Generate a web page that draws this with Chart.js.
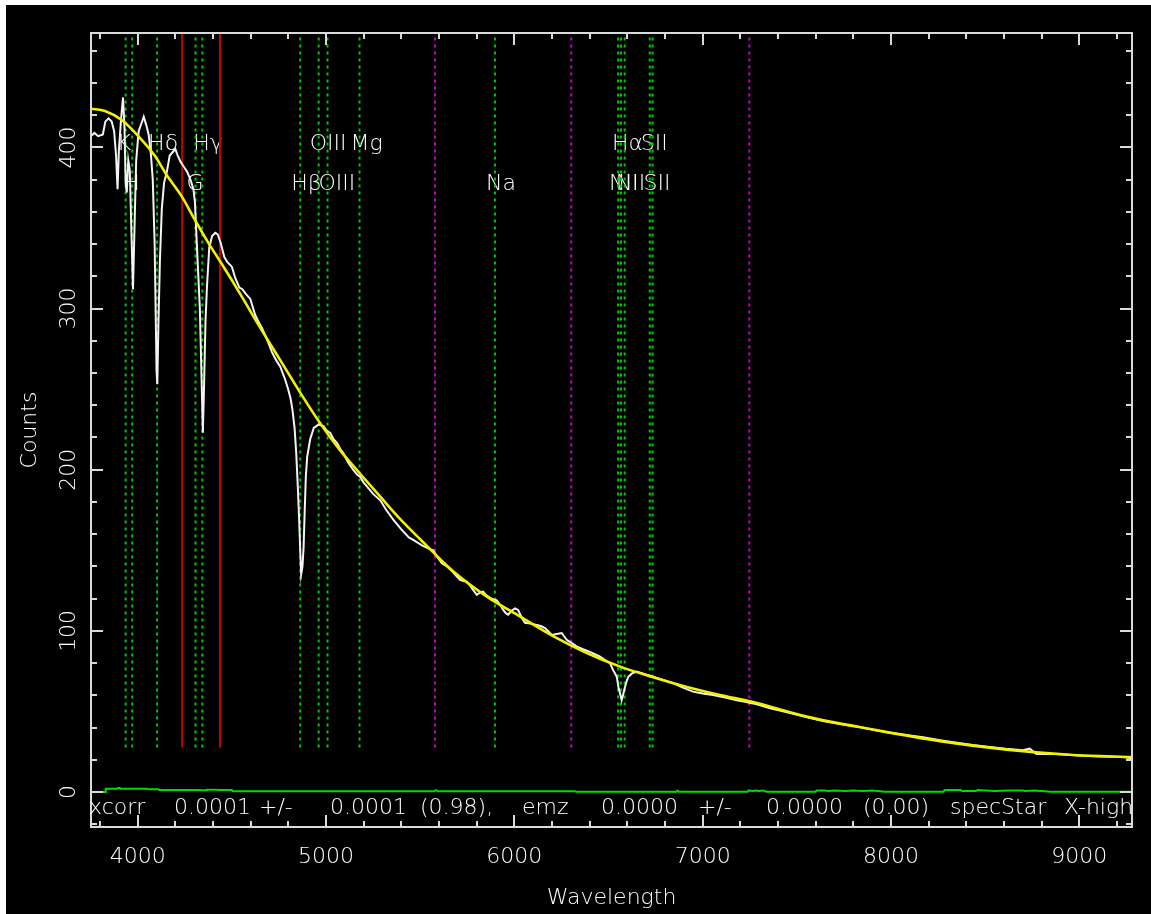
<!DOCTYPE html>
<html>
<head>
<meta charset="utf-8">
<script src="https://cdn.jsdelivr.net/npm/chart.js@4.4.1/dist/chart.umd.min.js"></script>
<style>
  html, body { margin: 0; padding: 0; background: #ffffff; width: 1151px; height: 914px; overflow: hidden; }
  #wrap { position: absolute; left: 6px; top: 5px; right: 0; bottom: 0; background: #000000; }
  canvas { display: block; }
</style>
</head>
<body>
<div id="wrap"><canvas id="spec" width="1145" height="909"></canvas></div>
<script>
// Observed spectrum (wavelength in Angstrom, counts)
const specWavelength = [3752,3770,3790,3815,3828,3845,3862,3875,3885,3893,3900,3912,3922,3930,3936,3942,3950,3958,3966,3975,3983,3992,4005,4020,4032,4045,4058,4070,4080,4090,4100,4104,4110,4118,4128,4140,4155,4170,4185,4200,4212,4228,4245,4262,4280,4296,4304,4312,4320,4330,4338,4346,4352,4360,4368,4380,4395,4412,4425,4440,4460,4475,4500,4518,4540,4556,4575,4598,4624,4645,4660,4686,4713,4735,4757,4783,4799,4812,4822,4833,4842,4850,4857,4863,4868,4875,4881,4887,4893,4900,4916,4935,4960,4987,5005,5022,5040,5058,5075,5091,5115,5144,5165,5182,5200,5217,5250,5288,5320,5357,5400,5440,5463,5510,5545,5569,5590,5615,5642,5670,5695,5712,5730,5748,5765,5781,5801,5818,5834,5852,5872,5890,5907,5925,5941,5955,5967,5985,6004,6020,6040,6057,6085,6119,6140,6163,6180,6199,6225,6252,6265,6279,6305,6332,6365,6402,6430,6455,6480,6508,6524,6544,6553,6561,6570,6578,6588,6597,6606,6625,6650,6690,6737,6790,6843,6895,6949,7000,7055,7120,7181,7225,7268,7310,7358,7410,7464,7550,7639,7730,7818,7905,7995,8080,8170,8260,8349,8435,8524,8610,8700,8737,8755,8773,8830,8879,8960,9056,9140,9231,9280];
const specCounts = [407,409,407,408,416,418,416,410,395,374,398,418,431,412,378,372,392,386,350,312,350,392,410,415,419,414,408,396,380,340,262,253,290,330,362,378,385,395,397,399,395,391,388,385,380,374,366,345,325,300,262,223,250,292,314,338,345,347,346,341,332,329,326,319,313,312,309,306,296,291,288,281,273,268,264,256,250,244,237,226,210,190,170,150,135,140,152,175,196,208,219,226,228,227,224,223,219,216.7,213,210.5,205,200,197,195.5,192,189.6,185,181,175,169,163,158,156.5,153,151,150,146,142,140,137,133.7,131.7,131,130.6,128,125.5,122.4,123.8,124.4,122,120.5,119.5,119,116,113,111,110,112.5,114,113,108,105,104.5,103.7,103,101.8,99.8,97.5,98,98.6,96.5,94.4,92.4,90.2,88.6,87,85.4,84,82,80,75.8,71.6,65,61.5,57,60.5,65.4,69,71.6,73.6,74.7,73.2,71.6,69.6,67.6,64.8,62.3,61.2,60.2,58.6,57,56,55,53.6,52,50.5,49,46.5,44,42.2,40.6,38.6,36.8,35.4,34,32.2,30.6,29.2,28,26.9,26,27,25.2,23.6,23.6,23.6,23,22.4,22,21.7,21];

// Smooth continuum fit
const fitWavelength = [3752,3826,3915,4003,4092,4153,4233,4304,4375,4445,4545,4651,4757,4862,4968,5075,5181,5287,5393,5499,5675,5854,6031,6206,6385,6562,6737,6916,7092,7268,7552,7904,8260,8614,8966,9280];
const fitCounts = [424,422.6,417,407,394.6,383,369.8,355,340.8,328,309,288,268,248,229,212,197.5,183.4,169.5,157,137,121.3,108.9,96.8,86.3,77.8,71.2,65.2,60.2,55.8,46.8,38.8,31.6,26.3,23,21.7];

// Noise level along the spectrum
const errWavelength = [3752,3828,3830,3890,3895,3905,3910,4050,4060,4110,4115,4330,4340,4365,4370,4420,4430,4500,4505,5575,5585,5595,6320,6330,6860,6865,6875,7240,7245,7265,7280,7300,7320,7337,7600,7605,7650,7660,7700,7760,7800,7850,7900,7970,8280,8285,8370,8380,8450,8460,8550,8620,8700,8710,8760,8850,9280];
const errCounts = [0,0,2,2,2.5,2.5,2,2,1.8,1.8,1.3,1.3,1.1,1.1,1.4,1.4,1.2,1.2,0.5,0.5,1.2,0.5,0.5,0.2,0.2,0.8,0.2,0.2,1,0.6,1,0.6,1,0.2,0.2,1,1,0.6,1,0.6,1,0.6,1,0.2,0.2,1.2,1.2,0.6,0.6,1.2,0.6,1,1,0.6,1,0.2,0.2];

// Spectral features marked on the plot
const featureWavelength = [3936,3971,4103,4307,4343,4863,4961,5008,5178,5897,6551,6566,6586,6719,6734];
const featureName = ['K','H','Hδ','G','Hγ','Hβ','OIII','OIII','Mg','Na','NII','Hα','NII','SII','SII'];
const featureRow = [0,1,0,1,0,1,0,1,0,1,1,0,1,0,1];
const skyWavelength = [5579,6302,7248];
const maskWavelength = [4236,4437];
const labelRowCounts = [402,377];
const markerBottom = 27.6;
const markerTop = 471;

// Axes
const xTicks = [4000,5000,6000,7000,8000,9000];
const yTicks = [0,100,200,300,400];
const xRange = [3752,9280];
const yRange = [-21.7,471];
const xMinorStep = 200;
const yMinorStep = 20;

const summaryParts = ['xcorr','0.0001','+/-','0.0001','(0.98),','emz','0.0000','+/-','0.0000','(0.00)','specStar','X-high'];
const summaryOffsets = [-2,83,168,239,329,431,510,607,675,772,859,973];

const FONT = "'DejaVu Sans', 'Liberation Sans', sans-serif";
const WEIGHT = '200';
const TEXT = '#ffffff';
const FRAME = '#dadada';

const pts = (xs, ys) => xs.map((x, i) => ({ x: x, y: ys[i] }));
const vline = (w, color, dash) => ({
  data: [{ x: w, y: markerBottom }, { x: w, y: markerTop }],
  borderColor: color, borderWidth: 2, borderDash: dash,
  pointRadius: 0, order: 5
});

const datasets = [
  { data: pts(fitWavelength, fitCounts), borderColor: '#f2f200', borderWidth: 2.6,
    pointRadius: 0, cubicInterpolationMode: 'monotone', order: 0 },
  { data: pts(specWavelength, specCounts), borderColor: '#f4f4f4', borderWidth: 2,
    pointRadius: 0, tension: 0, order: 1 },
  { data: pts(errWavelength, errCounts), borderColor: '#00dc00', borderWidth: 2,
    pointRadius: 0, tension: 0, order: 2 }
];
featureWavelength.forEach(w => datasets.push(vline(w, '#00c800', [3, 4])));
skyWavelength.forEach(w => datasets.push(vline(w, '#c800c8', [3, 4])));
maskWavelength.forEach(w => datasets.push(vline(w, '#c80000', [])));

// Feature names, drawn beneath the spectrum
const featureLabels = {
  id: 'featureLabels',
  beforeDatasetsDraw(chart) {
    const { ctx, scales: { x, y } } = chart;
    ctx.save();
    ctx.font = WEIGHT + ' 22px ' + FONT;
    ctx.fillStyle = TEXT;
    ctx.textAlign = 'left';
    ctx.textBaseline = 'middle';
    featureWavelength.forEach((w, i) => {
      ctx.fillText(featureName[i], x.getPixelForValue(w) - 9, y.getPixelForValue(labelRowCounts[featureRow[i]]));
    });
    ctx.restore();
  }
};

// Box frame with inward tick marks on all four sides, plus the fit summary line
const frame = {
  id: 'frame',
  afterDraw(chart) {
    const { ctx, chartArea: a, scales: { x, y } } = chart;
    ctx.save();
    ctx.strokeStyle = FRAME;
    ctx.lineWidth = 2;
    ctx.strokeRect(a.left, a.top, a.right - a.left, a.bottom - a.top);
    ctx.beginPath();
    for (let v = Math.ceil(xRange[0] / xMinorStep) * xMinorStep; v <= xRange[1]; v += xMinorStep) {
      const px = Math.round(x.getPixelForValue(v));
      const len = v % 1000 === 0 ? 12 : 6;
      ctx.moveTo(px, a.top); ctx.lineTo(px, a.top + len);
      ctx.moveTo(px, a.bottom); ctx.lineTo(px, a.bottom - len);
    }
    for (let v = Math.ceil(yRange[0] / yMinorStep) * yMinorStep; v <= yRange[1]; v += yMinorStep) {
      const py = Math.round(y.getPixelForValue(v));
      const len = v % 100 === 0 ? 12 : 6;
      ctx.moveTo(a.left, py); ctx.lineTo(a.left + len, py);
      ctx.moveTo(a.right, py); ctx.lineTo(a.right - len, py);
    }
    ctx.stroke();

    ctx.font = WEIGHT + ' 22px ' + FONT;
    ctx.fillStyle = TEXT;
    ctx.textAlign = 'left';
    ctx.textBaseline = 'middle';
    summaryParts.forEach((s, i) => ctx.fillText(s, a.left + summaryOffsets[i], a.bottom - 19));
    ctx.restore();
  }
};

const axisFont = { family: FONT, size: 22, weight: WEIGHT };

new Chart(document.getElementById('spec'), {
  type: 'line',
  data: { datasets: datasets },
  options: {
    responsive: false,
    animation: false,
    devicePixelRatio: 1,
    layout: { padding: { left: 0, top: 28, right: 19, bottom: 0 } },
    plugins: { legend: { display: false }, tooltip: { enabled: false } },
    elements: { line: { fill: false } },
    scales: {
      x: {
        type: 'linear', position: 'bottom', min: xRange[0], max: xRange[1],
        afterBuildTicks: s => { s.ticks = xTicks.map(v => ({ value: v })); },
        afterFit: s => { s.height = 87; },
        grid: { display: false }, border: { display: false },
        ticks: { color: TEXT, font: axisFont, padding: 9, maxRotation: 0, autoSkip: false,
                 callback: v => String(v) },
        title: { display: true, text: 'Wavelength', color: TEXT, font: axisFont, padding: { top: 0, bottom: 3 } }
      },
      y: {
        type: 'linear', position: 'left', min: yRange[0], max: yRange[1],
        afterBuildTicks: s => { s.ticks = yTicks.map(v => ({ value: v })); },
        afterFit: s => { s.width = 85; },
        grid: { display: false }, border: { display: false },
        ticks: { color: TEXT, font: axisFont, padding: -7, minRotation: 90, maxRotation: 90,
                 crossAlign: 'center', autoSkip: false, callback: v => String(v) },
        title: { display: true, text: 'Counts', color: TEXT, font: axisFont, padding: { top: 11, bottom: 0 } }
      }
    }
  },
  plugins: [featureLabels, frame]
});
</script>
</body>
</html>
